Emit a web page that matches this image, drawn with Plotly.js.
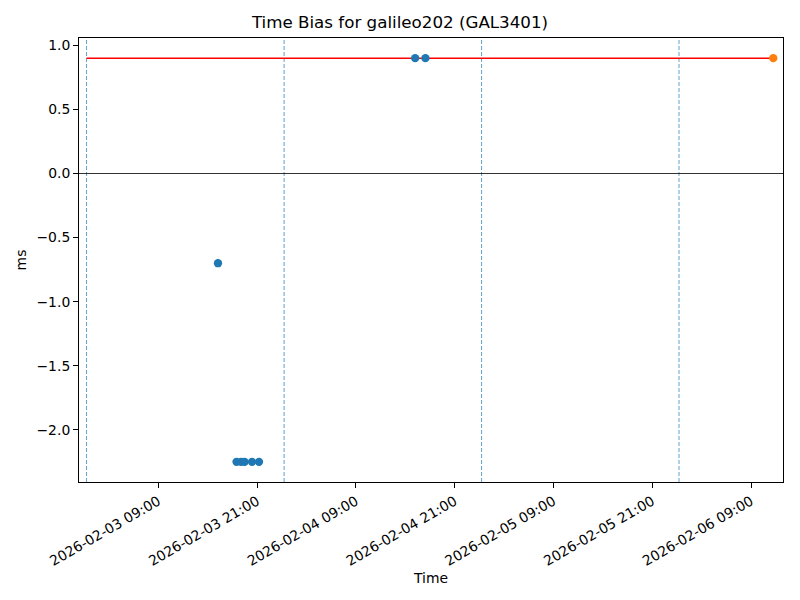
<!DOCTYPE html>
<html>
<head>
<meta charset="utf-8">
<script src="https://cdn.plot.ly/plotly-3.0.1.min.js"></script>
<style>body{margin:0;padding:0;background:#fff}</style>
</head>
<body>
<div id="chart" style="width:800px;height:600px"></div>
<script>
// Data
const biasTimes = [
  "2026-02-03 16:15",
  "2026-02-03 18:30",
  "2026-02-03 19:03",
  "2026-02-03 19:29",
  "2026-02-03 20:23",
  "2026-02-03 21:14",
  "2026-02-04 16:12",
  "2026-02-04 17:27"
];
const biasValues = [-0.70, -2.25, -2.25, -2.25, -2.25, -2.25, 0.90, 0.90];

const latestTime = ["2026-02-06 11:42"];
const latestValue = [0.90];

const refLineTimes = ["2026-02-03 00:17", "2026-02-06 11:42"];
const refLineValues = [0.90, 0.90];

const dayLines = ["2026-02-03 00:17", "2026-02-04 00:17", "2026-02-05 00:16", "2026-02-06 00:15"];

const xRange = ["2026-02-02 23:22", "2026-02-06 12:53"];
const yRange = [-2.4075, 1.0575];

const font = {family: "DejaVu Sans", size: 13.9, color: "#000"};

const traces = [
  {
    x: refLineTimes, y: refLineValues, type: "scatter", mode: "lines",
    line: {color: "red", width: 1.5}, hoverinfo: "skip", showlegend: false
  },
  {
    x: biasTimes, y: biasValues, type: "scatter", mode: "markers",
    marker: {color: "#1f77b4", size: 8.3}, showlegend: false
  },
  {
    x: latestTime, y: latestValue, type: "scatter", mode: "markers",
    marker: {color: "#ff7f0e", size: 8.3}, showlegend: false
  }
];

const shapes = dayLines.map(t => ({
  type: "line", xref: "x", yref: "paper", x0: t, x1: t, y0: 0, y1: 1,
  line: {color: "#1f77b4", width: 0.7, dash: "4px,2px"}, layer: "below"
}));

const layout = {
  width: 800, height: 600,
  margin: {l: 79, r: 17, t: 38, b: 118},
  paper_bgcolor: "#fff", plot_bgcolor: "#fff",
  font: font,
  title: {text: "Time Bias for galileo202 (GAL3401)", font: {family: "DejaVu Sans", size: 16.7, color: "#000"},
          x: 0.5, xanchor: "center", y: 1 - 22/600, yanchor: "middle"},
  xaxis: {
    type: "date", range: xRange,
    tick0: "2026-02-03 09:00", dtick: 43200000,
    tickformat: "%Y-%m-%d %H:%M", tickangle: -30,
    ticks: "outside", ticklen: 5, tickwidth: 1, tickcolor: "#000",
    showgrid: false, zeroline: false,
    showline: true, linecolor: "#000", linewidth: 1, mirror: true,
    title: {text: "Time", font: font, standoff: 5},
    tickfont: font
  },
  yaxis: {
    range: yRange, tickvals: [1.0, 0.5, 0.0, -0.5, -1.0, -1.5, -2.0], tickformat: ".1f",
    ticks: "outside", ticklen: 5, tickwidth: 1, tickcolor: "#000",
    showgrid: false,
    zeroline: true, zerolinecolor: "#000", zerolinewidth: 0.8,
    showline: true, linecolor: "#000", linewidth: 1, mirror: true,
    title: {text: "ms", font: font, standoff: 6},
    tickfont: font
  },
  shapes: shapes,
  showlegend: false
};

Plotly.newPlot("chart", traces, layout, {displayModeBar: false, staticPlot: true});
</script>
</body>
</html>
